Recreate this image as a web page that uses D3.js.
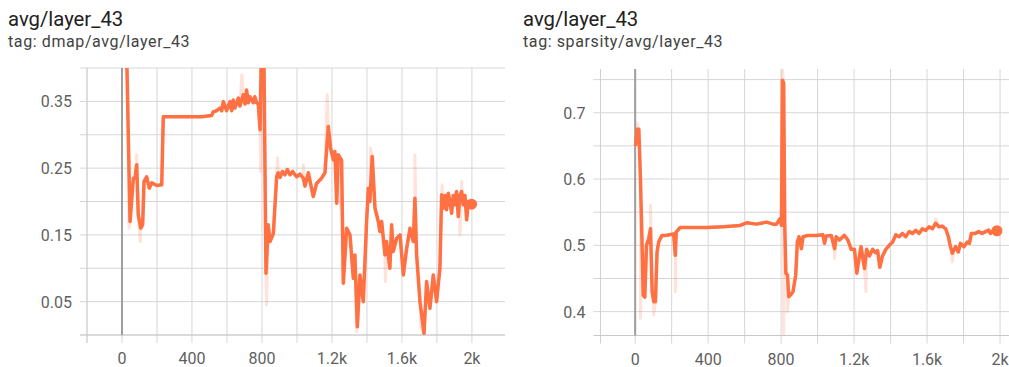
<!DOCTYPE html>
<html>
<head>
<meta charset="utf-8">
<script src="https://cdn.jsdelivr.net/npm/d3@7"></script>
<style>
  body { margin: 0; background: #fff; font-family: Roboto, "Noto Sans", sans-serif; }
  svg { display: block; }
</style>
</head>
<body>
<svg id="chart" width="1009" height="367"></svg>
<script>
// steps shared by both panels
const xGridSteps = [-200, 0, 200, 400, 600, 800, 1000, 1200, 1400, 1600, 1800, 2000, 2200];
const xTickSteps = [0, 400, 800, 1200, 1600, 2000];
const xTickLabels = ['0', '400', '800', '1.2k', '1.6k', '2k'];

// dmap panel: smoothed series [step, value]
const dmapSmoothed = [
  [20, 0.55], [27, 0.42], [36, 0.30], [46, 0.17], [65, 0.235], [74, 0.235], [84, 0.255],
  [93, 0.18], [107, 0.16], [118, 0.165], [126, 0.23], [141, 0.237], [156, 0.22], [170, 0.228],
  [198, 0.224], [227, 0.225], [236, 0.327], [455, 0.327], [512, 0.329], [522, 0.3345],
  [541, 0.336], [560, 0.34], [570, 0.336], [579, 0.3495], [598, 0.336], [617, 0.3495],
  [627, 0.336], [636, 0.352], [646, 0.34], [665, 0.355], [674, 0.343], [693, 0.36],
  [703, 0.346], [712, 0.367], [722, 0.348], [731, 0.357], [750, 0.348], [759, 0.357],
  [769, 0.348], [779, 0.346], [789, 0.3075], [798, 0.45], [811, 0.42],
  [823, 0.0925], [836, 0.165], [846, 0.14], [865, 0.152], [884, 0.2375], [893, 0.243],
  [903, 0.236], [917, 0.245], [931, 0.24], [945, 0.248], [960, 0.24], [975, 0.245],
  [998, 0.237], [1017, 0.241], [1036, 0.235], [1046, 0.223], [1065, 0.243],
  [1093, 0.2075], [1112, 0.227], [1141, 0.235], [1160, 0.243], [1179, 0.3125], [1192, 0.28],
  [1208, 0.2625], [1217, 0.275], [1227, 0.1975], [1236, 0.27], [1255, 0.262], [1265, 0.0775],
  [1284, 0.16], [1303, 0.15], [1322, 0.085], [1331, 0.12], [1345, 0.0125], [1360, 0.09],
  [1379, 0.05], [1398, 0.17], [1408, 0.22], [1417, 0.2], [1430, 0.2675], [1446, 0.19],
  [1465, 0.17], [1474, 0.155], [1484, 0.17], [1503, 0.12], [1512, 0.14], [1531, 0.1],
  [1541, 0.165], [1550, 0.125], [1570, 0.145], [1589, 0.15], [1608, 0.09], [1627, 0.13],
  [1646, 0.16], [1665, 0.14], [1674, 0.205], [1684, 0.12], [1703, 0.05], [1726, 0.0025],
  [1741, 0.08], [1760, 0.04], [1779, 0.09], [1798, 0.05], [1817, 0.1], [1827, 0.21],
  [1836, 0.19], [1846, 0.209], [1855, 0.1875], [1865, 0.2125], [1874, 0.2], [1884, 0.1825],
  [1893, 0.209], [1903, 0.195], [1912, 0.215], [1922, 0.1775], [1931, 0.209], [1941, 0.215],
  [1950, 0.195], [1960, 0.209], [1970, 0.1725], [1979, 0.2], [1988, 0.195], [1998, 0.196]
];
// raw spikes seen as faint marks around the smoothed line
const dmapRawSpikes = [
  [40, 0.16], [84, 0.27], [105, 0.14], [685, 0.39], [792, 0.245], [826, 0.045],
  [889, 0.265], [1036, 0.255], [1173, 0.36], [1250, 0.19], [1341, 0.005], [1420, 0.28],
  [1505, 0.08], [1674, 0.27], [1710, 0.01], [1830, 0.225], [1931, 0.15], [1941, 0.23]
];
const dmapYGrid = [0, 0.05, 0.1, 0.15, 0.2, 0.25, 0.3, 0.35, 0.4];
const dmapYTicks = [0.05, 0.15, 0.25, 0.35];

// sparsity panel
const sparsitySmoothed = [
  [2, 0.65], [11, 0.675], [20, 0.675], [29, 0.6], [38, 0.5], [44, 0.425], [53, 0.422],
  [62, 0.5], [74, 0.51], [84, 0.525], [93, 0.43], [102, 0.415], [111, 0.415], [120, 0.49],
  [129, 0.505], [147, 0.515], [165, 0.515], [211, 0.517], [220, 0.485], [225, 0.52],
  [247, 0.527], [302, 0.527], [393, 0.527], [484, 0.528], [575, 0.53], [611, 0.534],
  [666, 0.532], [720, 0.535], [756, 0.532], [775, 0.532], [793, 0.54], [802, 0.53],
  [807, 0.749], [814, 0.745], [820, 0.53], [826, 0.458], [835, 0.455], [842, 0.4226],
  [851, 0.425], [865, 0.43], [880, 0.455], [889, 0.505], [898, 0.513], [911, 0.495],
  [920, 0.513], [947, 0.515], [993, 0.515], [1029, 0.516], [1038, 0.503], [1047, 0.514],
  [1075, 0.515], [1093, 0.495], [1102, 0.513], [1120, 0.508], [1147, 0.515], [1166, 0.508],
  [1184, 0.494], [1202, 0.494], [1215, 0.458], [1226, 0.478], [1238, 0.498], [1257, 0.465],
  [1269, 0.494], [1284, 0.484], [1302, 0.494], [1317, 0.489], [1329, 0.492], [1341, 0.467],
  [1356, 0.484], [1374, 0.494], [1393, 0.5], [1411, 0.505], [1429, 0.516], [1447, 0.513],
  [1465, 0.518], [1483, 0.513], [1502, 0.5207], [1520, 0.518], [1538, 0.5226], [1556, 0.518],
  [1574, 0.525], [1593, 0.5226], [1611, 0.528], [1629, 0.525], [1647, 0.5333], [1665, 0.528],
  [1683, 0.529], [1702, 0.525], [1717, 0.513], [1724, 0.503], [1738, 0.488], [1747, 0.493],
  [1756, 0.498], [1771, 0.49], [1783, 0.503], [1802, 0.498], [1820, 0.505], [1832, 0.503],
  [1843, 0.518], [1865, 0.518], [1883, 0.5207], [1902, 0.518], [1920, 0.5207], [1938, 0.523],
  [1947, 0.518], [1965, 0.523], [1983, 0.522]
];
const sparsityRawSpikes = [
  [11, 0.684], [29, 0.39], [84, 0.56], [102, 0.395], [220, 0.43], [807, 0.765],
  [814, 0.36], [835, 0.4], [1093, 0.48], [1226, 0.49], [1265, 0.43], [1647, 0.54],
  [1738, 0.475]
];
const sparsityYGrid = [0.4, 0.45, 0.5, 0.55, 0.6, 0.65, 0.7, 0.75];
const sparsityYTicks = [0.4, 0.5, 0.6, 0.7];

const ORANGE = '#ff7043';
const svg = d3.select('#chart');

function drawPanel(cfg) {
  const g = svg.append('g');
  const x = d3.scaleLinear().domain(cfg.xDomain).range([cfg.left, cfg.right]);
  const y = d3.scaleLinear().domain(cfg.yDomain).range([cfg.bottom, cfg.top]);

  // titles
  g.append('text').attr('x', cfg.titleX).attr('y', 26)
    .attr('font-size', 20.3).attr('fill', '#212121').text(cfg.title);
  g.append('text').attr('x', cfg.titleX).attr('y', 47)
    .attr('font-size', 16).attr('letter-spacing', 0.6).attr('fill', '#424242').text(cfg.tag);

  // horizontal grid (runs a bit past the left edge like a tick)
  g.selectAll('.hgrid').data(cfg.yGrid).enter().append('line')
    .attr('x1', cfg.left - 7).attr('x2', cfg.right)
    .attr('y1', d => y(d)).attr('y2', d => y(d))
    .attr('stroke', '#d6d6d6').attr('stroke-width', 1);

  // vertical grid, extends below axis as tick
  const vs = xGridSteps.filter(d => d >= cfg.xDomain[0] && d <= cfg.xDomain[1]);
  g.selectAll('.vgrid').data(vs).enter().append('line')
    .attr('x1', d => x(d)).attr('x2', d => x(d))
    .attr('y1', cfg.top).attr('y2', cfg.bottom + 8)
    .attr('stroke', '#d6d6d6').attr('stroke-width', 1);

  // plot border left + bottom axis line
  g.append('line').attr('x1', cfg.left).attr('x2', cfg.left)
    .attr('y1', cfg.top).attr('y2', cfg.bottom + 8)
    .attr('stroke', '#d0d0d0');
  g.append('line').attr('x1', cfg.left - 7).attr('x2', cfg.right)
    .attr('y1', cfg.bottom).attr('y2', cfg.bottom)
    .attr('stroke', '#c8c8c8');

  // zero line
  g.append('line').attr('x1', x(0)).attr('x2', x(0))
    .attr('y1', cfg.top).attr('y2', cfg.bottom)
    .attr('stroke', '#9e9e9e').attr('stroke-width', 2);

  // tick labels
  g.selectAll('.ylab').data(cfg.yTicks).enter().append('text')
    .attr('x', cfg.left - 15).attr('y', d => y(d) + 6)
    .attr('text-anchor', 'end').attr('font-size', 16).attr('fill', '#5f5f5f')
    .text(d => d);
  g.selectAll('.xlab').data(xTickSteps).enter().append('text')
    .attr('x', d => x(d)).attr('y', cfg.bottom + 29)
    .attr('text-anchor', 'middle').attr('font-size', 16).attr('fill', '#5f5f5f')
    .text((d, i) => xTickLabels[i]);

  // clip for the series
  const clipId = 'clip-' + cfg.id;
  svg.append('clipPath').attr('id', clipId).append('rect')
    .attr('x', cfg.left).attr('y', cfg.top)
    .attr('width', cfg.right - cfg.left).attr('height', cfg.bottom - cfg.top);

  const line = d3.line().x(d => x(d[0])).y(d => y(d[1]));
  const raw = cfg.smoothed.concat(cfg.spikes).sort((a, b) => a[0] - b[0]);
  const series = g.append('g').attr('clip-path', `url(#${clipId})`);
  series.append('path').datum(raw).attr('d', line)
    .attr('fill', 'none').attr('stroke', ORANGE).attr('stroke-opacity', 0.2)
    .attr('stroke-width', 3).attr('stroke-linejoin', 'round');
  series.append('path').datum(cfg.smoothed).attr('d', line)
    .attr('fill', 'none').attr('stroke', ORANGE)
    .attr('stroke-width', 3.5).attr('stroke-linejoin', 'round');

  const last = cfg.smoothed[cfg.smoothed.length - 1];
  g.append('circle').attr('cx', x(last[0])).attr('cy', y(last[1]))
    .attr('r', 5.5).attr('fill', ORANGE);
}

drawPanel({
  id: 'dmap', title: 'avg/layer_43', tag: 'tag: dmap/avg/layer_43', titleX: 8,
  left: 87, right: 505, top: 68, bottom: 335,
  xDomain: [-200, 2189], yDomain: [0, 0.4],
  yGrid: dmapYGrid, yTicks: dmapYTicks,
  smoothed: dmapSmoothed, spikes: dmapRawSpikes
});
drawPanel({
  id: 'sparsity', title: 'avg/layer_43', tag: 'tag: sparsity/avg/layer_43', titleX: 523,
  left: 600.5, right: 1040, top: 69, bottom: 335.5,
  xDomain: [-190, 2219], yDomain: [0.364, 0.766],
  yGrid: sparsityYGrid, yTicks: sparsityYTicks,
  smoothed: sparsitySmoothed, spikes: sparsityRawSpikes
});
</script>
</body>
</html>
